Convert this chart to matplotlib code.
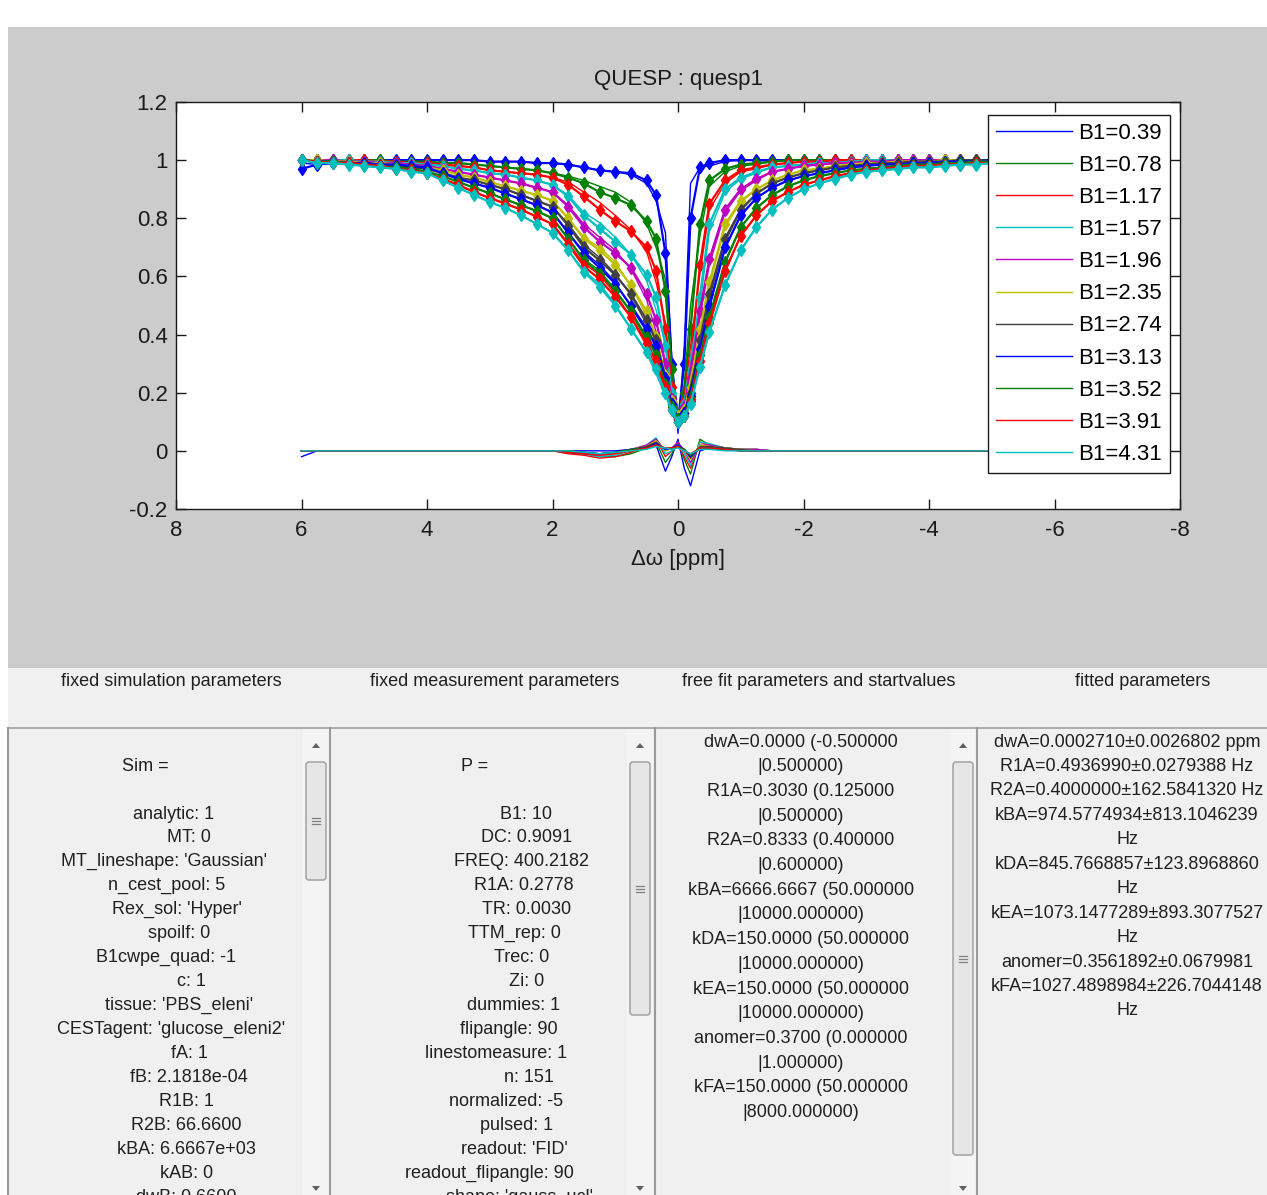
import matplotlib.pyplot as plt
from matplotlib.patches import Rectangle, FancyBboxPatch, Polygon

plt.rcParams['font.family'] = ['Liberation Sans', 'DejaVu Sans']
plt.rcParams['axes.unicode_minus'] = False

W, H = 1267, 1195

# frequency offsets [ppm]
offsets = [6.0, 5.75, 5.5, 5.25, 5.0, 4.75, 4.5, 4.25, 4.0, 3.75, 3.5, 3.25, 3.0,
           2.75, 2.5, 2.25, 2.0, 1.75, 1.5, 1.25, 1.0, 0.75, 0.5,
           0.35, 0.2, 0.1, 0.0, -0.1, -0.2, -0.35,
           -0.5, -0.75, -1.0, -1.25, -1.5, -1.75, -2.0, -2.25, -2.5, -2.75, -3.0,
           -3.25, -3.5, -3.75, -4.0, -4.25, -4.5, -4.75, -5.0, -5.25, -5.5, -5.75, -6.0]

b1_levels = [0.39, 0.78, 1.17, 1.57, 1.96, 2.35, 2.74, 3.13, 3.52, 3.91, 4.31]

# measured Z-spectra, one per B1
z_039 = [0.97, 0.985, 0.99, 1.0, 1.0, 1.0, 1.0, 1.0, 1.0, 1.0, 1.0, 1.0, 0.995,
         0.995, 0.995, 0.99, 0.99, 0.985, 0.975, 0.965, 0.96, 0.955, 0.93,
         0.88, 0.68, 0.30, 0.10, 0.30, 0.80, 0.975,
         0.99] + [1.0] * 22
z_078 = [1.0, 1.0, 1.0, 1.0, 1.0, 1.0, 0.995, 0.995, 0.995, 0.99, 0.99, 0.985, 0.98,
         0.975, 0.97, 0.965, 0.955, 0.94, 0.92, 0.89, 0.87, 0.845, 0.79,
         0.73, 0.55, 0.28, 0.12, 0.20, 0.42, 0.78,
         0.93, 0.97, 0.985, 0.99, 0.995] + [1.0] * 18
z_117 = [1.0, 1.0, 1.0, 1.0, 1.0, 0.995, 0.995, 0.99, 0.99, 0.985, 0.98, 0.975, 0.965,
         0.96, 0.955, 0.95, 0.94, 0.915, 0.875, 0.83, 0.79, 0.755, 0.70,
         0.62, 0.42, 0.22, 0.12, 0.17, 0.30, 0.64,
         0.85, 0.93, 0.965, 0.975, 0.985, 0.99, 0.995, 0.995] + [1.0] * 15
z_157 = [1.0, 1.0, 1.0, 1.0, 0.995, 0.995, 0.99, 0.99, 0.985, 0.98, 0.97, 0.965, 0.955,
         0.95, 0.94, 0.93, 0.915, 0.875, 0.81, 0.765, 0.72, 0.675, 0.605,
         0.53, 0.36, 0.20, 0.12, 0.16, 0.27, 0.53,
         0.78, 0.90, 0.94, 0.96, 0.975, 0.98, 0.985, 0.99, 0.99, 0.995] + [1.0] * 13
z_196 = [1.0, 1.0, 1.0, 0.995, 0.995, 0.99, 0.99, 0.985, 0.98, 0.97, 0.96, 0.95, 0.94,
         0.93, 0.92, 0.905, 0.89, 0.84, 0.77, 0.72, 0.68, 0.63, 0.54,
         0.45, 0.30, 0.18, 0.12, 0.15, 0.25, 0.48,
         0.66, 0.83, 0.90, 0.935, 0.96, 0.97, 0.98, 0.985, 0.99, 0.99, 0.995,
         0.995] + [1.0] * 11
z_235 = [1.0, 1.0, 0.995, 0.995, 0.99, 0.99, 0.985, 0.98, 0.975, 0.965, 0.95, 0.94, 0.925,
         0.91, 0.895, 0.88, 0.86, 0.80, 0.73, 0.69, 0.64, 0.57, 0.48,
         0.39, 0.26, 0.17, 0.12, 0.14, 0.22, 0.42,
         0.58, 0.78, 0.86, 0.90, 0.93, 0.95, 0.965, 0.97, 0.98, 0.985, 0.99,
         0.99, 0.995, 0.995, 0.995] + [1.0] * 8
z_274 = [1.0, 0.995, 0.995, 0.99, 0.99, 0.985, 0.98, 0.975, 0.97, 0.955, 0.94, 0.93, 0.915,
         0.90, 0.88, 0.86, 0.84, 0.775, 0.70, 0.655, 0.605, 0.54, 0.45,
         0.38, 0.25, 0.16, 0.11, 0.13, 0.20, 0.38,
         0.54, 0.73, 0.83, 0.885, 0.92, 0.94, 0.955, 0.965, 0.975, 0.98, 0.985,
         0.99, 0.99, 0.995, 0.995, 0.995] + [1.0] * 7
z_313 = [1.0, 0.995, 0.995, 0.99, 0.99, 0.985, 0.985, 0.98, 0.975, 0.955, 0.935, 0.92, 0.905,
         0.885, 0.865, 0.845, 0.82, 0.75, 0.68, 0.63, 0.575, 0.50, 0.42,
         0.36, 0.25, 0.16, 0.11, 0.13, 0.19, 0.35,
         0.50, 0.70, 0.81, 0.87, 0.905, 0.93, 0.945, 0.955, 0.965, 0.975, 0.98,
         0.985, 0.985, 0.99, 0.99, 0.995, 0.995, 0.995, 1.0, 1.0, 1.0, 1.0, 1.0]
z_352 = [1.0, 0.995, 0.995, 0.99, 0.985, 0.98, 0.975, 0.97, 0.96, 0.945, 0.925, 0.905, 0.886,
         0.865, 0.845, 0.825, 0.80, 0.73, 0.655, 0.61, 0.55, 0.48, 0.39,
         0.33, 0.23, 0.15, 0.11, 0.12, 0.18, 0.33,
         0.46, 0.65, 0.77, 0.835, 0.88, 0.91, 0.93, 0.945, 0.955, 0.965, 0.97,
         0.975, 0.98, 0.985, 0.985, 0.99, 0.99, 0.995, 0.995, 1.0, 1.0, 1.0, 1.0]
z_391 = [1.0, 0.995, 0.99, 0.99, 0.985, 0.98, 0.97, 0.965, 0.955, 0.935, 0.915, 0.89, 0.87,
         0.85, 0.83, 0.805, 0.78, 0.71, 0.635, 0.59, 0.53, 0.46, 0.37,
         0.31, 0.22, 0.14, 0.10, 0.12, 0.17, 0.31,
         0.44, 0.62, 0.74, 0.81, 0.86, 0.89, 0.915, 0.93, 0.945, 0.955, 0.965,
         0.97, 0.975, 0.98, 0.98, 0.985, 0.985, 0.99, 0.99, 0.995, 0.995, 1.0, 1.0]
z_431 = [1.0, 0.99, 0.99, 0.985, 0.98, 0.975, 0.97, 0.96, 0.955, 0.93, 0.905, 0.88, 0.856,
         0.835, 0.81, 0.78, 0.75, 0.69, 0.615, 0.565, 0.50, 0.42, 0.34,
         0.28, 0.20, 0.14, 0.10, 0.12, 0.16, 0.29,
         0.41, 0.57, 0.69, 0.77, 0.83, 0.87, 0.90, 0.92, 0.935, 0.95, 0.96,
         0.965, 0.97, 0.975, 0.975, 0.98, 0.985, 0.985, 0.99, 0.99, 0.99, 0.995, 0.995]

# residuals (data - fit), non-zero only around the water line
res_039 = [-0.02] + [0.0] * 16 + [0, 0, 0, 0, 0.005, 0.01, 0.02, -0.07, -0.02, 0.04, -0.06, -0.12,
                                  0.0, 0.01, 0.005, 0, 0, 0, 0] + [0.0] * 17
res_078 = [0.0] * 17 + [-0.005, -0.01, -0.02, -0.02, -0.01, 0.01, 0.03, -0.04, -0.01, 0.03, -0.03,
                        -0.08, 0.04, 0.02, 0.01, 0.005, 0.005, 0, 0] + [0.0] * 17
res_117 = [0.0] * 17 + [-0.01, -0.015, -0.025, -0.02, -0.005, 0.015, 0.04, -0.02, 0.0, 0.02, -0.02,
                        -0.06, 0.03, 0.02, 0.01, 0.005, 0.005, 0, 0] + [0.0] * 17
res_157 = [0.0] * 17 + [-0.005, -0.01, -0.02, -0.015, 0.0, 0.02, 0.045, -0.01, 0.0, 0.02, -0.01,
                        -0.05, 0.03, 0.025, 0.01, 0.005, 0.005, 0, 0] + [0.0] * 17
res_196 = [0.0] * 17 + [-0.005, -0.01, -0.015, -0.01, 0.005, 0.02, 0.04, 0.0, 0.01, 0.03, 0.0,
                        -0.04, 0.02, 0.02, 0.01, 0.005, 0.005, 0, 0] + [0.0] * 17
res_235 = [0.0] * 17 + [0, -0.005, -0.01, -0.01, 0.005, 0.015, 0.035, 0.0, 0.01, 0.02, 0.0,
                        -0.03, 0.02, 0.015, 0.01, 0.005, 0, 0, 0] + [0.0] * 17
res_274 = [0.0] * 17 + [-0.005, -0.01, -0.01, -0.005, 0.005, 0.015, 0.03, 0.005, 0.01, 0.02, 0.005,
                        -0.025, 0.015, 0.015, 0.01, 0.005, 0, 0, 0] + [0.0] * 17
res_313 = [0.0] * 17 + [0, -0.005, -0.01, -0.005, 0.005, 0.01, 0.025, 0.005, 0.01, 0.02, 0.005,
                        -0.02, 0.01, 0.01, 0.005, 0, 0, 0, 0] + [0.0] * 17
res_352 = [0.0] * 17 + [0, -0.005, -0.01, -0.005, 0.005, 0.01, 0.02, 0.01, 0.01, 0.015, 0.005,
                        -0.015, 0.01, 0.01, 0.005, 0, 0, 0, 0] + [0.0] * 17
res_391 = [0.0] * 17 + [-0.005, -0.01, -0.015, -0.01, 0.0, 0.01, 0.02, 0.01, 0.01, 0.015, 0.0,
                        -0.01, 0.01, 0.01, 0.005, 0, 0, 0, 0] + [0.0] * 17
res_431 = [0.0] * 17 + [0, -0.005, -0.01, -0.005, 0.0, 0.005, 0.015, 0.01, 0.005, 0.01, 0.0,
                        -0.01, 0.005, 0.005, 0.0, 0, 0, 0, 0] + [0.0] * 17

spectra = [z_039, z_078, z_117, z_157, z_196, z_235, z_274, z_313, z_352, z_391, z_431]
residuals = [res_039, res_078, res_117, res_157, res_196, res_235, res_274, res_313,
             res_352, res_391, res_431]

# classic MATLAB line order
colors = [(0, 0, 1), (0, 0.5, 0), (1, 0, 0), (0, 0.75, 0.75), (0.75, 0, 0.75),
          (0.75, 0.75, 0), (0.25, 0.25, 0.25)]

xticks = [8, 6, 4, 2, 0, -2, -4, -6, -8]
yticks = [-0.2, 0, 0.2, 0.4, 0.6, 0.8, 1.0, 1.2]
ytick_labels = ['-0.2', '0', '0.2', '0.4', '0.6', '0.8', '1', '1.2']

sim_fields = [('analytic', '1'), ('MT', '0'), ('MT_lineshape', "'Gaussian'"),
              ('n_cest_pool', '5'), ('Rex_sol', "'Hyper'"), ('spoilf', '0'),
              ('B1cwpe_quad', '-1'), ('c', '1'), ('tissue', "'PBS_eleni'"),
              ('CESTagent', "'glucose_eleni2'"), ('fA', '1'), ('fB', '2.1818e-04'),
              ('R1B', '1'), ('R2B', '66.6600'), ('kBA', '6.6667e+03'), ('kAB', '0'),
              ('dwB', '0.6600')]
p_fields = [('B1', '10'), ('DC', '0.9091'), ('FREQ', '400.2182'), ('R1A', '0.2778'),
            ('TR', '0.0030'), ('TTM_rep', '0'), ('Trec', '0'), ('Zi', '0'),
            ('dummies', '1'), ('flipangle', '90'), ('linestomeasure', '1'), ('n', '151'),
            ('normalized', '-5'), ('pulsed', '1'), ('readout', "'FID'"),
            ('readout_flipangle', '90'), ('shape', "'gauss_ucl'")]
start_lines = ['dwA=0.0000 (-0.500000', '|0.500000)', 'R1A=0.3030 (0.125000', '|0.500000)',
               'R2A=0.8333 (0.400000', '|0.600000)', 'kBA=6666.6667 (50.000000',
               '|10000.000000)', 'kDA=150.0000 (50.000000', '|10000.000000)',
               'kEA=150.0000 (50.000000', '|10000.000000)', 'anomer=0.3700 (0.000000',
               '|1.000000)', 'kFA=150.0000 (50.000000', '|8000.000000)']
fitted_lines = ['dwA=0.0002710±0.0026802 ppm', 'R1A=0.4936990±0.0279388 Hz',
                'R2A=0.4000000±162.5841320 Hz', 'kBA=974.5774934±813.1046239', 'Hz',
                'kDA=845.7668857±123.8968860', 'Hz', 'kEA=1073.1477289±893.3077527', 'Hz',
                'anomer=0.3561892±0.0679981', 'kFA=1027.4898984±226.7044148', 'Hz']

fig = plt.figure(figsize=(W / 100, H / 100), dpi=100, facecolor='white')

# window background, drawn in pixel coordinates
bg = fig.add_axes([0, 0, 1, 1], zorder=0)
bg.set_xlim(0, W)
bg.set_ylim(H, 0)
bg.axis('off')
bg.add_patch(Rectangle((8, 27), W - 8, 641, fc='#cccccc', ec='none'))
bg.add_patch(Rectangle((8, 668), W - 8, H - 668, fc='#f0f0f0', ec='none'))
bg.plot([8, W], [728, 728], color='#a0a0a0', lw=1.2)
for xs in [8, 330, 655, 977]:
    bg.plot([xs, xs], [728, H], color='#9a9a9a', lw=1.5)

headers = ['fixed simulation parameters', 'fixed measurement parameters',
           'free fit parameters and startvalues', 'fitted parameters']
for hx, txt in zip([171, 495, 819, 1143], headers):
    bg.text(hx, 681, txt, ha='center', va='center', fontsize=13, color='#202020')


def scrollbar(x0, thumb_top, thumb_bot):
    cx = x0 + 13
    bg.add_patch(Rectangle((x0, 729), 26, H - 729, fc='#f4f4f4', ec='none'))
    bg.add_patch(Polygon([[cx - 4, 748], [cx + 4, 748], [cx, 743]], closed=True,
                         fc='#606060', ec='none'))
    bg.add_patch(Polygon([[cx - 4, 1186], [cx + 4, 1186], [cx, 1191]], closed=True,
                         fc='#606060', ec='none'))
    bg.add_patch(FancyBboxPatch((x0 + 3, thumb_top), 20, thumb_bot - thumb_top,
                                boxstyle='round,pad=0,rounding_size=3',
                                fc='#e6e6e6', ec='#a8a8a8', lw=1.2))
    mid = (thumb_top + thumb_bot) / 2
    for dy in [-3, 0, 3]:
        bg.plot([cx - 4, cx + 4], [mid + dy, mid + dy], color='#808080', lw=0.9)


scrollbar(303, 762, 880)
scrollbar(627, 762, 1015)
scrollbar(950, 762, 1155)

space_px = 5.0
# struct listings: field names right-aligned, every line centred
bg.text(145, 766, 'Sim =', ha='center', va='center', fontsize=13, color='#202020')
name_w = max(len(n) for n, _ in sim_fields)
for i, (name, val) in enumerate(sim_fields):
    dx = (name_w - len(name)) * space_px / 2
    bg.text(164 + dx, 814 + i * 23.95, f'{name}: {val}', ha='center', va='center',
            fontsize=13, color='#202020')

bg.text(475, 766, 'P =', ha='center', va='center', fontsize=13, color='#202020')
name_w = max(len(n) for n, _ in p_fields)
for i, (name, val) in enumerate(p_fields):
    dx = (name_w - len(name)) * space_px / 2
    bg.text(489 + dx, 814 + i * 23.95, f'{name}: {val}', ha='center', va='center',
            fontsize=13, color='#202020')

for i, line in enumerate(start_lines):
    bg.text(801, 742 + i * 24.7, line, ha='center', va='center', fontsize=13, color='#202020')

for i, line in enumerate(fitted_lines):
    bg.text(1127, 742 + i * 24.45, line, ha='center', va='center', fontsize=13, color='#202020')

# QUESP plot
ax = fig.add_axes([176 / W, 1 - 509 / H, 1004 / W, 407 / H], zorder=1)
ax.set_facecolor('white')

fit_lines = []
for k, (z, res) in enumerate(zip(spectra, residuals)):
    c = colors[k % len(colors)]
    fit = [zi - ri for zi, ri in zip(z, res)]
    ax.plot(offsets, z, '-', marker='d', color=c, lw=1.6, ms=6, mfc=c, mec=c)
    line, = ax.plot(offsets, fit, '-', color=c, lw=1.0)
    ax.plot(offsets, res, '-', color=c, lw=1.0)
    fit_lines.append(line)

ax.set_xlim(8, -8)
ax.set_ylim(-0.2, 1.2)
ax.set_xticks(xticks)
ax.set_xticklabels([str(t) for t in xticks])
ax.set_yticks(yticks)
ax.set_yticklabels(ytick_labels)
ax.tick_params(direction='in', length=7, width=1, top=True, right=True,
               labelsize=16, pad=6, colors='#1a1a1a')
ax.tick_params(axis='x', pad=8)
for sp in ax.spines.values():
    sp.set_linewidth(1.0)
    sp.set_color('#1a1a1a')

ax.set_title('QUESP : quesp1', fontsize=16, pad=12, color='#1a1a1a')
ax.set_xlabel('Δω [ppm]', fontsize=16, labelpad=6, color='#1a1a1a')

leg = ax.legend(fit_lines, [f'B1={b:.2f}' for b in b1_levels], loc='upper right',
                bbox_to_anchor=(1170 / W, 1 - 115 / H), bbox_transform=fig.transFigure,
                fontsize=16, frameon=True, fancybox=False, edgecolor='#1a1a1a',
                framealpha=1, handlelength=3.4, handletextpad=0.3, labelspacing=0.5,
                borderpad=0.35, borderaxespad=0)
leg.get_frame().set_linewidth(1.0)

fig.savefig('out.png', dpi=100, facecolor=fig.get_facecolor())
